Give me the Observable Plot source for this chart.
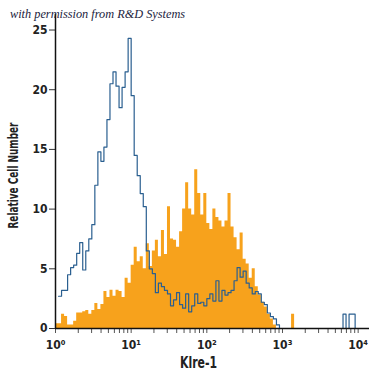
<!DOCTYPE html>
<html><head><meta charset="utf-8">
<script src="https://cdn.jsdelivr.net/npm/d3@7"></script>
<script src="https://cdn.jsdelivr.net/npm/@observablehq/plot@0.6"></script>
<style>
body{margin:0;background:#fff;}
#wrap{position:relative;width:375px;height:375px;}
#title{position:absolute;left:10px;top:7px;font:italic 12.3px "Liberation Serif","DejaVu Serif",serif;color:#1b2340;white-space:nowrap;}
</style></head><body>
<div id="wrap"><div id="title">with permission from R&amp;D Systems</div></div>
<script>
// log10 channel width (decades per histogram channel), channels start at 10^0
const decadesPerChannel = 0.04;

// Klre-1 stained cells (filled orange histogram), 100 channels over 4 decades
const klre1Counts = [
  0.4,0.4,1.2,1.0,0.3,0.3,0.6,1.3,1.3,1.4,
  1.5,1.2,1.5,2.1,1.6,2.0,3.1,2.6,3.2,2.7,
  3.2,3.1,2.6,4.2,3.8,5.3,6.8,5.6,6.0,5.0,
  7.1,5.2,6.5,7.4,6.0,8.2,6.2,10.2,7.5,7.4,
  6.8,8.1,10.0,12.2,10.0,9.5,13.3,11.3,9.5,11.3,
  8.8,8.3,10.0,9.3,9.0,8.5,9.0,11.3,8.5,7.6,
  6.6,8.0,5.8,5.4,4.2,5.0,3.5,2.8,2.2,1.8,
  1.2,0.8,0.3,0,0,0,0,0,1.2,0,
  0,0,0,0,0,0,0,0,0,0,
  0,0,0,0,0,0,0,0,0,0
];

// isotype control (blue outline histogram); null = no trace drawn
const isotypeCounts = [
  null,2.7,3.2,3.2,4.5,5.1,5.3,6.3,7.2,4.9,
  6.5,7.5,8.7,12.0,14.8,14.0,15.2,17.5,20.5,21.5,
  20.3,18.5,20.2,21.5,24.3,19.5,14.5,12.8,11.3,10.2,
  6.5,5.0,4.6,3.0,3.8,3.5,3.2,2.9,1.9,2.4,
  3.0,2.0,1.7,2.9,1.4,1.9,2.9,2.1,2.2,1.9,
  2.5,2.9,2.3,4.0,2.3,3.2,2.8,3.0,3.2,4.0,
  5.1,4.3,4.8,3.8,3.4,2.9,3.1,2.9,2.2,2.0,
  1.3,1.0,0.8,0.3,0,0,0,0,0,0,
  0,0,0,0,0,0,0,0,0,0,
  0,0,0,0,0,1.2,0,1.2,1.2,0
];

const yTicks = [0, 5, 10, 15, 20, 25];
const xDecades = [0, 1, 2, 3, 4];
const minorMultipliers = [2, 3, 4, 5, 6, 7, 8, 9];
const xLabel = "Klre-1";
const yLabel = "Relative Cell Number";
const xMax = 10 ** 4.15;
const yMax = 26.3;

const sup = {"0":"\u2070","1":"\u00B9","2":"\u00B2","3":"\u00B3","4":"\u2074"};

// build step points: left edge of each channel, plus closing right edge
function steps(counts) {
  const pts = counts.map((v, i) => ({x: 10 ** (i * decadesPerChannel), y: v}));
  pts.push({x: 10 ** (counts.length * decadesPerChannel), y: counts[counts.length - 1]});
  return pts;
}
const klrePts = steps(klre1Counts);
const isoPts = steps(isotypeCounts);

const majorTicks = xDecades.map(d => 10 ** d);
const minorTicks = xDecades.flatMap(d => minorMultipliers.map(m => m * 10 ** d)).filter(v => v <= xMax);

const font = '"Liberation Sans Narrow","DejaVu Sans Condensed","DejaVu Sans",sans-serif';

const chart = Plot.plot({
  width: 375,
  height: 375,
  marginLeft: 55,
  marginRight: 6,
  marginTop: 14,
  marginBottom: 47,
  style: {fontFamily: font, fontWeight: "bold", fontSize: "12px", color: "#222", background: "#fff", fontStretch: "condensed"},
  x: {type: "log", domain: [1, xMax], range: [55, 369]},
  y: {domain: [0, yMax]},
  marks: [
    Plot.areaY(klrePts, {x: "x", y: "y", curve: "step-after", fill: "#f7a21c"}),
    Plot.lineY(isoPts, {x: "x", y: "y", curve: "step-after", stroke: "#2a5f90", strokeWidth: 1.2}),
    Plot.axisY(yTicks, {tickSize: 6, tickPadding: 2, label: null, stroke: "#333", fontSize: 12}),
    Plot.axisX(minorTicks, {tickSize: 5, tickFormat: () => "", label: null, stroke: "#555"}),
    Plot.axisX(majorTicks, {tickSize: 5, tickPadding: 7, label: null, stroke: "#555", fontSize: 12,
      tickFormat: v => "10" + sup[String(Math.round(Math.log10(v)))]}),
    Plot.ruleY([0], {stroke: "#111", strokeWidth: 1.5}),
    Plot.ruleX([1], {stroke: "#111", strokeWidth: 1.5}),
    Plot.text([xLabel], {frameAnchor: "bottom", dx: -14, dy: 39, fontSize: 16, fontWeight: "bold", fill: "#222"}),
    Plot.text([yLabel], {frameAnchor: "left", textAnchor: "middle", dx: -42, dy: 4, rotate: -90, fontSize: 14.5, fontWeight: "bold", fill: "#222"})
  ]
});
// condense the axis titles to the narrow face of the original
d3.select(chart).selectAll("text").each(function() {
  const t = this.textContent;
  if (t === yLabel) d3.select(this).attr("textLength", 106).attr("lengthAdjust", "spacingAndGlyphs");
  if (t === xLabel) d3.select(this).attr("textLength", 37).attr("lengthAdjust", "spacingAndGlyphs");
});
document.getElementById("wrap").prepend(chart);
</script>
</body></html>
